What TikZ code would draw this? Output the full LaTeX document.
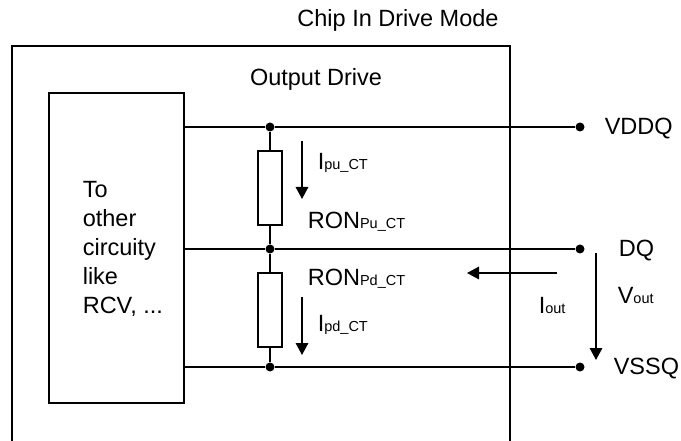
\documentclass[tikz,border=0pt]{standalone}
\usepackage{fontspec}
\setmainfont{Liberation Sans}
\usetikzlibrary{arrows.meta}
\newcommand{\lowtxt}[1]{{\fontsize{14.5}{14.5}\selectfont #1}}
\tikzset{
	dot/.style={circle, fill=black, inner sep=0pt, minimum size=9pt},
	res/.style={draw, rectangle, line width=1.6pt, inner sep=0pt, minimum width=24pt, minimum height=74pt},
	lbl/.style={anchor=base west, inner sep=0pt},
	flow/.style={line width=1.6pt, -{Triangle[length=12pt,width=12.5pt]}}
}

\begin{document}
\begin{tikzpicture}[x=1pt, y=-1pt, line width=1.6pt, font=\fontsize{23.5}{29}\selectfont]
	\useasboundingbox (0,0) rectangle (681,441);
	\node[inner sep=0pt] (title) at (398,20) {Chip In Drive Mode};
	\draw (12,441) -- (12,46) -- (510,46) -- (510,441);
	\node[inner sep=0pt] (drive) at (316,79) {Output Drive};
	\draw (49,93) rectangle (184,403);
	\coordinate (rcvtop) at (184,127);
	\coordinate (rcvmid) at (184,249);
	\coordinate (rcvbot) at (184,367);
	\node[lbl, align=left] (other) at (82,313) {To\\other\\circuity\\like\\RCV, ...};
	\node[dot] (jt) at (270,127) {};
	\node[dot] (jm) at (270,249) {};
	\node[dot] (jb) at (270,367) {};
	\node[dot] (tv) at (580,127) {};
	\node[dot] (tq) at (580,249) {};
	\node[dot] (ts) at (580,367) {};
	\node[res] (rpu) at (270,188) {};
	\node[res] (rpd) at (270,310) {};
	\draw (rcvtop) -- (jt) -- (tv);
	\draw (rcvmid) -- (jm) -- (tq);
	\draw (rcvbot) -- (jb) -- (ts);
	\draw (jt) -- (rpu) -- (jm) -- (rpd) -- (jb);
	\coordinate (pua) at (302,141);
	\coordinate (pub) at (302,199);
	\coordinate (pda) at (302,297);
	\coordinate (pdb) at (302,355);
	\coordinate (outa) at (557,273);
	\coordinate (outb) at (467,273);
	\coordinate (va) at (596,253);
	\coordinate (vb) at (596,360);
	\draw[flow] (pua) -- (pub);
	\draw[flow] (pda) -- (pdb);
	\draw[flow] (outa) -- (outb);
	\draw[flow] (va) -- (vb);
	\node[lbl] (ipu) at (317,170) {I\lowtxt{pu\_CT}};
	\node[lbl] (ronpu) at (307,229) {RON\lowtxt{Pu\_CT}};
	\node[lbl] (ronpd) at (307,286) {RON\lowtxt{Pd\_CT}};
	\node[lbl] (ipd) at (317,331) {I\lowtxt{pd\_CT}};
	\node[lbl] (iout) at (538,313) {I\lowtxt{out}};
	\node[lbl] (vout) at (617,303) {V\lowtxt{out}};
	\node[lbl] (lvddq) at (604,135) {VDDQ};
	\node[lbl] (ldq) at (618,257) {DQ};
	\node[lbl] (lvssq) at (613,374) {VSSQ};
\end{tikzpicture}
\end{document}
